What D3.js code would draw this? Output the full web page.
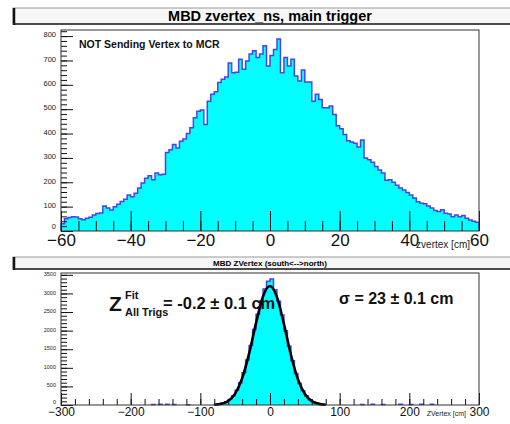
<!DOCTYPE html>
<html>
<head>
<meta charset="utf-8">
<script src="https://cdn.jsdelivr.net/npm/d3@7"></script>
<style>
body { margin: 0; background: #fff; }
svg { display: block; font-family: "Liberation Sans", Arial, sans-serif; }
</style>
</head>
<body>
<svg id="chart" width="510" height="424"></svg>
<script>
// upper pad: 1 cm bins from -60 to 60
var topLo = -60, topBinW = 1;
var topCounts = [
    30, 50, 55, 58, 57, 50, 46, 52, 56, 66, 72, 74, 103, 94, 86, 100, 110, 121, 130, 148,
    141, 155, 177, 197, 217, 227, 210, 238, 231, 233, 322, 334, 355, 341, 368, 378, 400, 424, 465, 492,
    497, 437, 533, 561, 572, 610, 623, 632, 690, 650, 652, 705, 664, 698, 726, 740, 712, 726, 760, 677,
    720, 745, 788, 650, 712, 677, 705, 636, 616, 661, 612, 612, 533, 561, 540, 506, 506, 513, 478, 432,
    420, 396, 370, 365, 360, 345, 374, 300, 292, 282, 265, 250, 238, 208, 210, 200, 188, 176, 168, 158,
    148, 135, 120, 114, 112, 103, 94, 84, 80, 87, 73, 70, 59, 66, 59, 64, 52, 45, 40, 36
];
var topXTicks = [-60, -40, -20, 0, 20, 40, 60];
var topYTicks = [0, 100, 200, 300, 400, 500, 600, 700, 800];

// lower pad: 5 cm bins around the peak, plus a few sparse tail bins
var botLo = -80, botBinW = 5;
var botCounts = [
    10, 28, 50, 88, 150, 250, 395, 600, 870, 1210, 1600, 2030, 2440, 2800, 3120, 3330,
    3390, 3100, 2790, 2420, 2000, 1580, 1190, 850, 580, 380, 240, 140, 80, 45, 25, 12
];
var botTailX = [-170, -160, -150, -140, -120, 130, 145, 160, 185, 200, 215, 230];
var botTailC = [15, 20, 18, 12, 10, 12, 18, 15, 20, 14, 22, 18];
var fitX = [-80, -70, -60, -50, -40, -30, -20, -10, 0, 10, 20, 30, 40, 50, 60, 70, 80];
var fitY = [8, 32, 109, 307, 716, 1382, 2209, 2922, 3200, 2900, 2176, 1351, 695, 296, 104, 30, 7];
var botXTicks = [-300, -200, -100, 0, 100, 200, 300];
var botYTicks = [0, 500, 1000, 1500, 2000, 2500, 3000, 3500];

var svg = d3.select('#chart');
var minus = function (v) { return v < 0 ? '\u2212' + Math.abs(v) : '' + v; };

function titleBox(y0, h, text, size, base) {
    svg.append('rect')
        .attr('x', 13).attr('y', y0).attr('width', 505).attr('height', h)
        .attr('fill', '#f6f6f6').attr('stroke', '#999').attr('stroke-width', 1);
    svg.append('line')
        .attr('x1', 14).attr('x2', 14).attr('y1', y0).attr('y2', y0 + h + 1)
        .attr('stroke', '#111').attr('stroke-width', 2.5);
    svg.append('line')
        .attr('x1', 13).attr('x2', 510).attr('y1', y0 + h).attr('y2', y0 + h)
        .attr('stroke', '#222').attr('stroke-width', 1.5);
    svg.append('text')
        .attr('x', 270).attr('y', base)
        .attr('text-anchor', 'middle')
        .attr('font-weight', 'bold')
        .attr('font-size', size)
        .text(text);
}

function stepPoints(bins) {
    var pts = [[bins[0].x0, 0]];
    bins.forEach(function (b) {
        pts.push([b.x0, b.v]);
        pts.push([b.x1, b.v]);
    });
    pts.push([bins[bins.length - 1].x1, 0]);
    return pts;
}

function drawHist(g, bins, x, y) {
    var pts = stepPoints(bins);
    g.append('path')
        .attr('d', d3.area().x(function (p) { return x(p[0]); }).y0(y(0)).y1(function (p) { return y(p[1]); })(pts))
        .attr('fill', '#00ffff');
    g.append('path')
        .attr('d', d3.line().x(function (p) { return x(p[0]); }).y(function (p) { return y(p[1]); })(pts))
        .attr('fill', 'none')
        .attr('stroke', '#4646e6')
        .attr('stroke-width', 1.5);
}

function axes(g, x, y, opt) {
    var xMaj = g.append('g').attr('transform', 'translate(0,' + opt.bottom + ')')
        .call(d3.axisBottom(x).tickValues(opt.xTicks).tickSize(-opt.xMajLen).tickPadding(opt.xPad).tickFormat(minus));
    xMaj.selectAll('text').attr('font-size', opt.xFont).attr('fill', '#111');
    g.append('g').attr('transform', 'translate(0,' + opt.bottom + ')')
        .call(d3.axisBottom(x).tickValues(opt.xMinor).tickSize(-opt.xMinLen).tickFormat(''));
    var yMaj = g.append('g').attr('transform', 'translate(' + opt.left + ',0)')
        .call(d3.axisLeft(y).tickValues(opt.yTicks).tickSize(-12).tickPadding(5).tickFormat(d3.format('d')));
    yMaj.selectAll('text')
        .attr('font-size', opt.yFont).attr('fill', '#222')
        .attr('dy', function (d) { return d === 0 ? '-0.3em' : '0.1em'; });
    g.append('g').attr('transform', 'translate(' + opt.left + ',0)')
        .call(d3.axisLeft(y).tickValues(opt.yMinor).tickSize(-6).tickFormat(''));
    g.selectAll('.domain').remove();
    g.selectAll('.tick line').attr('stroke', '#111');
    g.selectAll('.tick text').attr('font-family', '"Liberation Sans", Arial, sans-serif');
}

// ---------- upper pad ----------
titleBox(8, 16, 'MBD zvertex_ns, main trigger', 14.5, 21);

var L = 61, R = 479;
var xTop = d3.scaleLinear().domain([-60, 60]).range([L, R]);
var yTop = d3.scaleLinear().domain([0, 825]).range([231, 30]);
var gTop = svg.append('g');

var topBins = topCounts.map(function (v, i) {
    return { x0: topLo + i * topBinW, x1: topLo + (i + 1) * topBinW, v: v };
});
drawHist(gTop, topBins, xTop, yTop);

axes(gTop, xTop, yTop, {
    bottom: 231, left: L,
    xTicks: topXTicks, xMinor: d3.range(-60, 61, 5), xMajLen: 20, xMinLen: 10, xPad: 3, xFont: 17,
    yTicks: topYTicks, yMinor: d3.range(0, 821, 20), yFont: 7.5
});
gTop.append('rect')
    .attr('x', L).attr('y', 30).attr('width', R - L).attr('height', 201)
    .attr('fill', 'none').attr('stroke', '#333').attr('stroke-width', 1);

gTop.append('text')
    .attr('x', 79).attr('y', 47.5)
    .attr('font-weight', 'bold').attr('font-size', 10.5)
    .attr('fill', '#111')
    .text('NOT Sending Vertex to MCR');
gTop.append('text')
    .attr('x', 470).attr('y', 248)
    .attr('text-anchor', 'end').attr('font-size', 10)
    .attr('fill', '#222')
    .text('zvertex [cm]');

// ---------- lower pad ----------
titleBox(257, 12, 'MBD ZVertex (south<-->north)', 8, 266);

var xBot = d3.scaleLinear().domain([-300, 300]).range([L, R]);
var yBot = d3.scaleLinear().domain([0, 3550]).range([405, 273]);
var gBot = svg.append('g');

var coreBins = botCounts.map(function (v, i) {
    return { x0: botLo + i * botBinW, x1: botLo + (i + 1) * botBinW, v: v };
});
drawHist(gBot, coreBins, xBot, yBot);
botTailX.forEach(function (xv, i) {
    drawHist(gBot, [{ x0: xv, x1: xv + botBinW, v: botTailC[i] }], xBot, yBot);
});

gBot.append('path')
    .attr('d', d3.line()
        .x(function (d, i) { return xBot(d); })
        .y(function (d, i) { return yBot(fitY[i]); })
        .curve(d3.curveMonotoneX)(fitX))
    .attr('fill', 'none')
    .attr('stroke', '#000')
    .attr('stroke-width', 2.6);

axes(gBot, xBot, yBot, {
    bottom: 405, left: L,
    xTicks: botXTicks, xMinor: d3.range(-300, 301, 20), xMajLen: 12, xMinLen: 6, xPad: 2, xFont: 12,
    yTicks: botYTicks, yMinor: d3.range(0, 3501, 100), yFont: 5.5
});
gBot.append('rect')
    .attr('x', L).attr('y', 273).attr('width', R - L).attr('height', 132)
    .attr('fill', 'none').attr('stroke', '#333').attr('stroke-width', 1);

gBot.append('text')
    .attr('x', 466).attr('y', 416)
    .attr('text-anchor', 'end').attr('font-size', 7)
    .attr('fill', '#222')
    .text('ZVertex [cm]');

var fitTxt = gBot.append('g').attr('font-weight', 'bold').attr('fill', '#111');
fitTxt.append('text').attr('x', 109).attr('y', 311).attr('font-size', 21).text('Z');
fitTxt.append('text').attr('x', 125).attr('y', 299).attr('font-size', 11).text('Fit');
fitTxt.append('text').attr('x', 125).attr('y', 316).attr('font-size', 11).text('All Trigs');
fitTxt.append('text').attr('x', 163).attr('y', 309).attr('font-size', 16.5).text('= -0.2 \u00b1 0.1 cm');
fitTxt.append('text').attr('x', 339).attr('y', 304).attr('font-size', 16).text('\u03c3 = 23 \u00b1 0.1 cm');
</script>
</body>
</html>
